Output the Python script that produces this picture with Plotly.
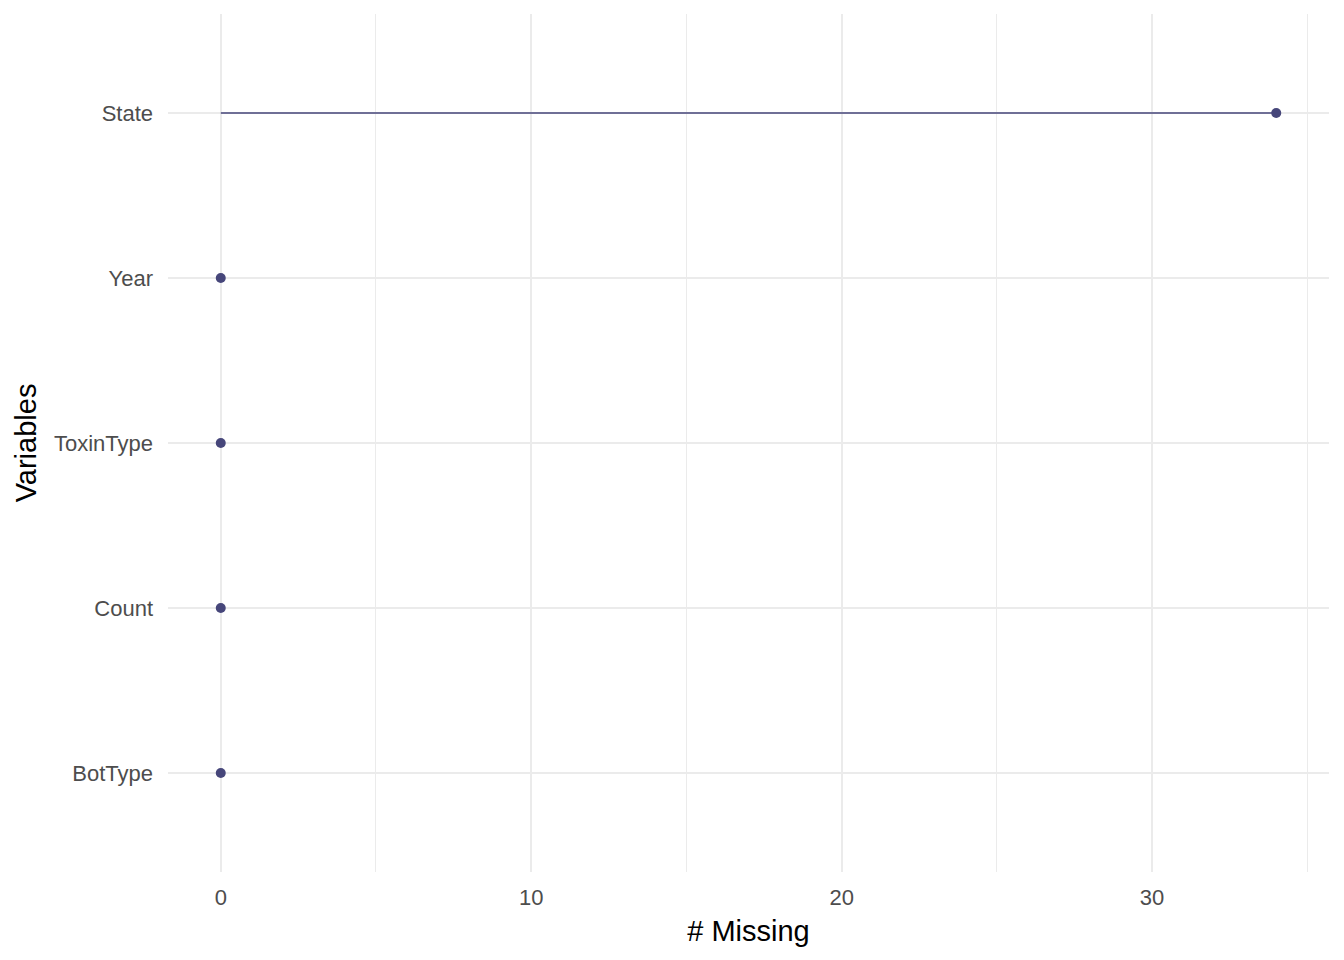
import plotly.graph_objects as go

# variables en orden de abajo hacia arriba
variables = ["BotType", "Count", "ToxinType", "Year", "State"]
n_missing = [0, 0, 0, 0, 34]

color_punto = "#46467A"
fuente = "Liberation Sans, Arial, sans-serif"

# segmentos del lollipop desde 0 hasta el valor
xs, ys = [], []
for v, n in zip(variables, n_missing):
    xs += [0, n, None]
    ys += [v, v, None]

fig = go.Figure()
fig.add_trace(go.Scatter(x=xs, y=ys, mode="lines",
                         line=dict(color=color_punto, width=1.4),
                         hoverinfo="skip", showlegend=False))
fig.add_trace(go.Scatter(x=n_missing, y=variables, mode="markers",
                         marker=dict(color=color_punto, size=10),
                         showlegend=False))

# la pagina agrega 8px de margen al body, se compensa aqui
fig.update_layout(
    width=1344, height=960,
    plot_bgcolor="white", paper_bgcolor="white",
    margin=dict(l=160, r=23, t=6, b=96),
    font=dict(family=fuente, color="#4D4D4D", size=22),
    xaxis=dict(
        range=[-1.7, 35.7], dtick=10, tick0=0,
        showgrid=True, gridcolor="#EBEBEB", gridwidth=1.8,
        minor=dict(dtick=5, tick0=0, showgrid=True, gridcolor="#EBEBEB", gridwidth=0.9),
        zeroline=False, showline=False, ticks="",
        ticklabelstandoff=10,
        tickfont=dict(size=22, color="#4D4D4D"),
        title=dict(text="# Missing", font=dict(size=29, color="black"), standoff=11),
    ),
    yaxis=dict(
        type="category", categoryorder="array", categoryarray=variables,
        range=[-0.6, 4.6],
        showgrid=True, gridcolor="#EBEBEB", gridwidth=1.8,
        zeroline=False, showline=False, ticks="",
        ticklabelstandoff=14,
        tickfont=dict(size=22, color="#4D4D4D"),
        title=dict(text="Variables", font=dict(size=29, color="black"), standoff=8),
    ),
)

fig.write_html("out.html")
